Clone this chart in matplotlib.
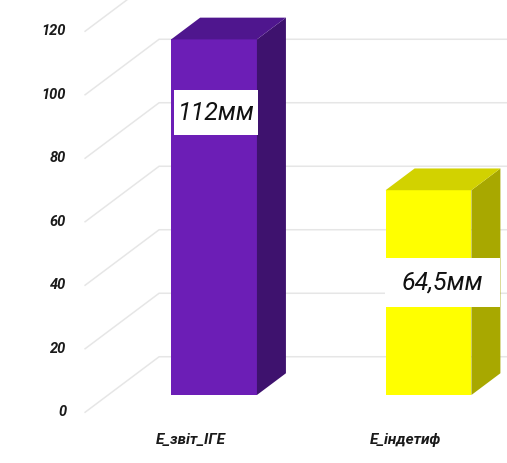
import matplotlib.pyplot as plt
import matplotlib.transforms as mtransforms
from matplotlib.patches import Polygon, Rectangle
import numpy as np

# data
categories = ["E_звіт_ІГЕ", "E_індетиф"]
values = [112, 64.5]
value_labels = ["112мм", "64,5мм"]
yticks = [0, 20, 40, 60, 80, 100, 120]

front_colors = ["#6c1eb6", "#ffff00"]
side_colors = ["#3e126e", "#a8a800"]
top_colors = ["#4f168e", "#d2d200"]

W, H = 507, 463
fig = plt.figure(figsize=(W / 100, H / 100), dpi=100)
ppu = 3.175  # pixels per unit on the bar plane
ax = fig.add_axes([0, (H - 395) / H, 1, 124 * ppu / H])
ax.set_xlim(-0.998, 1.366)
ax.set_ylim(0, 124)
ax.axis("off")

ident = mtransforms.IdentityTransform()
slope = 0.75


def to_px(x, v, t=0, dx=0, dy=0):
    # t = depth in pixels (positive goes back / up-right)
    px, py = ax.transData.transform((x, v))
    return px + t + dx, py + slope * t + dy


# grid: left wall slant + back wall lines
x_wall = -0.494
xmax = ax.get_xlim()[1]
for v in yticks:
    pts = [to_px(x_wall, v, -23), to_px(x_wall, v, 51), to_px(xmax, v, 51)]
    xs, ys = zip(*pts)
    ax.add_line(plt.Line2D(xs, ys, transform=ident, color="#e6e6e6",
                           lw=1.1, zorder=1, clip_on=False))
    tx, ty = to_px(x_wall, v, -23, dx=-19)
    ax.text(tx, ty, str(v), transform=ident, ha="right", va="center",
            fontsize=10.5, fontstyle="italic", fontweight="bold",
            family="Roboto", color="#1a1a1a")

# bars
xpos = np.arange(len(values))
width = 0.4
depth = 29
ax.bar(xpos, values, width=width, color=front_colors, zorder=3)
for i, v in enumerate(values):
    xl, xr = xpos[i] - width / 2, xpos[i] + width / 2
    side = [to_px(xr, 0), to_px(xr, v), to_px(xr, v, depth), to_px(xr, 0, depth)]
    top = [to_px(xl, v), to_px(xr, v), to_px(xr, v, depth), to_px(xl, v, depth)]
    ax.add_patch(Polygon(side, closed=True, transform=ident, clip_on=False,
                         facecolor=side_colors[i], edgecolor="none", zorder=3))
    ax.add_patch(Polygon(top, closed=True, transform=ident, clip_on=False,
                         facecolor=top_colors[i], edgecolor="none", zorder=3))
    # category label on the front plane
    cx, cy = to_px(xpos[i], 0, -23, dy=-28)
    ax.text(cx, cy, categories[i], transform=ident, ha="center", va="center",
            fontsize=11, fontstyle="italic", fontweight="bold",
            family="Roboto", color="#1a1a1a")

# value boxes
boxes = [(-0.186, 0.205, 81.8, 96.0), (0.797, 1.333, 27.7, 43.1)]
for i, (x0, x1, y0, y1) in enumerate(boxes):
    ax.add_patch(Rectangle((x0, y0), x1 - x0, y1 - y0, facecolor="white",
                           edgecolor="none", zorder=5, clip_on=False))
    ax.text((x0 + x1) / 2, (y0 + y1) / 2, value_labels[i], ha="center",
            va="center", fontsize=18, fontstyle="italic",
            family="Roboto", color="#111111", zorder=6)

fig.savefig("out.png", dpi=100)
